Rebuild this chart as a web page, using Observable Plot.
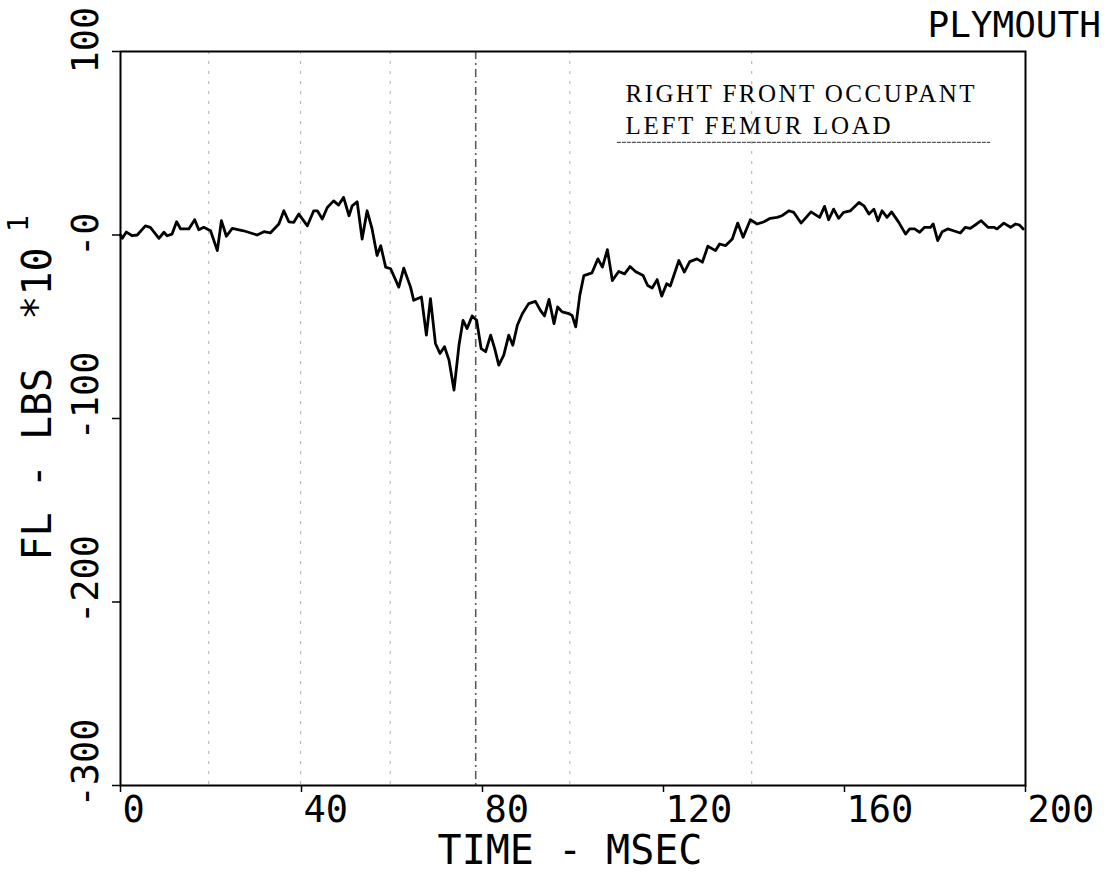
<!DOCTYPE html>
<html>
<head>
<meta charset="utf-8">
<script src="https://cdn.jsdelivr.net/npm/d3@7"></script>
<script src="https://cdn.jsdelivr.net/npm/@observablehq/plot@0.6"></script>
<style>
  html, body { margin: 0; padding: 0; background: #fff; }
</style>
</head>
<body>
<div id="chart"></div>
<script>
// ---- data ----
const timeMs = [
  0, 0.4, 1.3, 2.6, 3.7, 5.5, 6.6, 8.5, 9.6, 10.3, 11.4, 12.4, 13.3, 15.1, 16.4, 17.3, 18.4, 19.9,
  21.4, 22.3, 23.4, 24.7, 27.2, 30.2, 31.7, 33.1, 35.0, 36.1, 37.2, 38.3, 39.4, 41.3, 42.7, 43.5,
  44.6, 45.7, 47.1, 48.2, 49.3, 50.5, 51.2, 52.3, 53.4, 54.5, 55.6, 56.7, 57.5, 58.6, 59.7, 61.5,
  62.6, 64.1, 64.8, 66.5, 67.6, 68.5, 69.6, 70.6, 71.6, 72.6, 73.7, 74.8, 75.7, 76.6, 77.7, 78.7,
  79.7, 80.7, 81.8, 82.7, 83.6, 84.7, 85.8, 86.7, 87.7, 88.8, 90.2, 91.7, 92.8, 93.7, 94.7, 95.8,
  96.6, 97.6, 99.1, 99.8, 100.6, 101.5, 102.4, 104.2, 105.5, 106.5, 107.6, 108.7, 110.1, 111.4,
  112.6, 113.8, 115.5, 116.5, 117.5, 118.6, 119.6, 120.7, 121.5, 123.4, 124.6, 125.8, 127.4, 128.6,
  129.8, 131.5, 132.4, 133.7, 135.2, 136.4, 137.6, 139.2, 140.7, 142.2, 143.6, 145.1, 146.2, 147.7,
  148.8, 150.4, 152.6, 154.5, 155.6, 156.5, 157.6, 158.7, 159.8, 161.3, 163.2, 164.3, 165.4, 166.5,
  167.4, 168.3, 169.4, 170.4, 172.0, 173.5, 174.4, 175.5, 176.6, 177.7, 179.0, 179.6, 180.6, 181.6,
  182.8, 184.1, 185.6, 186.7, 187.8, 189.2, 190.2, 191.7, 193.0, 193.7, 195.2, 196.7, 197.8, 198.7,
  199.5
];
const femurLoad = [
  0, -1.8, 1.6, -0.4, 0, 5.0, 4.2, -1.8, 1.5, -0.4, 0.5, 7.2, 3.3, 3.3, 8.3, 2.9, 4.2, 2.3,
  -8.5, 7.8, -0.7, 3.6, 2.3, 0, 1.8, 1.1, 6.0, 13.2, 7.2, 6.9, 11.4, 5.0, 13.2, 13.2,
  8.7, 15.0, 18.6, 16.3, 20.5, 10.5, 15.9, 18.1, -2.2, 13.2, 3.3, -11.2, -5.8, -17.5, -18.4, -28.4,
  -18.1, -28.4, -35.6, -33.8, -54.6, -34.7, -59.1, -64.6, -60.9, -68.2, -84.5, -60.1, -46.5, -51.0, -44.1, -46.5,
  -61.9, -63.6, -54.6, -61.9, -70.9, -65.5, -54.6, -60.1, -49.2, -42.9, -37.4, -36.2, -41.1, -44.1, -35.1, -48.3,
  -39.2, -41.9, -42.9, -43.8, -50.1, -32.9, -22.1, -20.6, -13.0, -17.5, -8.0, -24.8, -19.9, -21.2,
  -17.2, -19.9, -22.1, -27.5, -28.9, -24.3, -33.3, -26.6, -27.8, -13.9, -20.2, -14.5, -13.0, -14.8,
  -6.1, -8.5, -4.9, -5.8, -2.2, 6.5, -1.2, 8.3, 6.0, 7.2, 9.1, 9.6, 10.5, 13.2,
  12.3, 6.5, 12.6, 9.6, 15.6, 8.3, 14.1, 9.1, 12.3, 13.2, 17.7, 15.9, 11.4, 14.1,
  7.8, 13.2, 9.6, 12.6, 6.9, 0.5, 3.3, 3.3, 1.5, 4.2, 4.2, 6.0, -3.1, 1.8,
  3.3, 2.3, 1.1, 4.2, 3.6, 6.0, 7.8, 4.2, 4.2, 3.3, 6.5, 4.2, 6.0, 5.4,
  3.3
];
const xTicks = [0, 40, 80, 120, 160, 200];
const xTickLabels = ["0", "40", "80", "120", "160", "200"];
const yTicks = [-300, -200, -100, 0, 100];
const yTickLabels = ["-300", "-200", "-100", "-0", "100"];
const scanLines = [19.5, 39.8, 59.6, 99.3, 139.5];   // faint scan streaks (time units)
const darkScanLines = [78.5];
const xTitle = "TIME - MSEC";
const yTitle = "FL - LBS  *10";
const yTitleExp = "1";
const plotName = "PLYMOUTH";
const annoLines = ["RIGHT FRONT OCCUPANT", "LEFT FEMUR LOAD"];

const data = timeMs.map((t, i) => ({t, v: femurLoad[i]}));
const mono = "DejaVu Sans Mono, Liberation Mono, monospace";
const serif = "Liberation Serif, DejaVu Serif, serif";

const plot = Plot.plot({
  width: 1108,
  height: 873,
  marginLeft: 120,
  marginRight: 83,
  marginTop: 51,
  marginBottom: 88,
  style: {background: "#fff", color: "#000", overflow: "visible"},
  x: {domain: [0, 200], label: null},
  y: {domain: [-300, 100], label: null},
  marks: [
    Plot.ruleX(scanLines, {x: d => d, stroke: "#8a8a8a", strokeWidth: 1, strokeDasharray: "3,7", strokeOpacity: 0.7}),
    Plot.ruleX(darkScanLines, {x: d => d, stroke: "#333", strokeWidth: 1.6, strokeDasharray: "8,4,2,4", strokeOpacity: 0.8}),
    Plot.frame({stroke: "#000", strokeWidth: 2}),
    Plot.axisX({ticks: xTicks, tickSize: 7, tickFormat: () => "", label: null, strokeWidth: 1.5}),
    Plot.axisY({ticks: yTicks, tickSize: 8, tickFormat: () => "", label: null, strokeWidth: 1.5}),
    Plot.line(data, {x: "t", y: "v", stroke: "#000", strokeWidth: 2.8, strokeLinejoin: "round"}),
    // x tick labels
    Plot.text(xTicks, {x: d => d, text: (d, i) => xTickLabels[i], frameAnchor: "bottom", dy: 25, dx: 2,
      textAnchor: "start", lineAnchor: "middle", fontSize: 37, fontFamily: mono}),
    // y tick labels (rotated)
    Plot.text(yTicks, {y: d => d, text: (d, i) => yTickLabels[i], frameAnchor: "left", dx: -34, dy: 22,
      rotate: -90, textAnchor: "start", lineAnchor: "middle", fontSize: 37, fontFamily: mono}),
    // axis titles
    Plot.text([xTitle], {text: d => d, frameAnchor: "bottom", dx: -3, dy: 66, textAnchor: "middle",
      lineAnchor: "middle", fontSize: 40, fontFamily: mono}),
    Plot.text([yTitle], {text: d => d, frameAnchor: "left", dx: -82, dy: 142, rotate: -90,
      textAnchor: "start", lineAnchor: "middle", fontSize: 40, fontFamily: mono}),
    Plot.text([yTitleExp], {text: d => d, frameAnchor: "left", dx: -101, dy: -195, rotate: -90,
      textAnchor: "middle", lineAnchor: "middle", fontSize: 28, fontFamily: mono}),
    // top-right name
    Plot.text([plotName], {text: d => d, frameAnchor: "top-right", dx: -98, dy: -26, textAnchor: "start",
      lineAnchor: "middle", fontSize: 36, fontFamily: mono}),
    // annotation
    Plot.text([annoLines[0]], {text: d => d, frameAnchor: "top-left", dx: 505, dy: 42, textAnchor: "start",
      lineAnchor: "middle", fontSize: 25, fontFamily: serif}),
    Plot.text([annoLines[1]], {text: d => d, frameAnchor: "top-left", dx: 505, dy: 74, textAnchor: "start",
      lineAnchor: "middle", fontSize: 25, fontFamily: serif}),
    Plot.ruleY([50.5], {y: d => d, x1: 109.8, x2: 192.3, stroke: "#555", strokeWidth: 1.2, strokeDasharray: "4,1"})
  ]
});

// stretch the typed annotation to its typewriter pitch
plot.querySelectorAll("text").forEach(t => {
  if (t.textContent === annoLines[0]) { t.setAttribute("textLength", 349); t.setAttribute("lengthAdjust", "spacing"); }
  if (t.textContent === annoLines[1]) { t.setAttribute("textLength", 265); t.setAttribute("lengthAdjust", "spacing"); }
});

document.getElementById("chart").appendChild(plot);
</script>
</body>
</html>
